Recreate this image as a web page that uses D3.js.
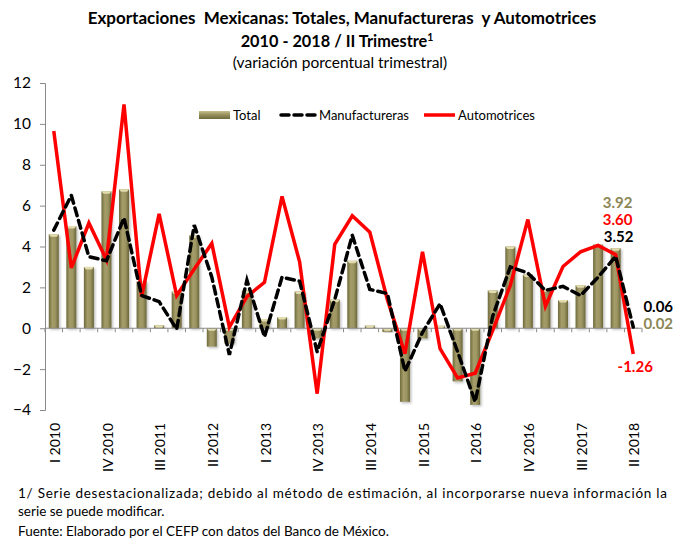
<!DOCTYPE html>
<html><head><meta charset="utf-8">
<script src="https://cdn.jsdelivr.net/npm/d3@7"></script>
<style>
html,body{margin:0;padding:0;background:#fff;}
svg{display:block;font-family:Lato,"Open Sans",sans-serif;}
</style></head>
<body>
<svg id="chart" width="686" height="541"></svg>
<script>
// ---- data ----
const years = [2010,2011,2012,2013,2014,2015,2016,2017,2018];
const romans = ["I","II","III","IV"];
const quarters = [];
years.forEach(y => romans.forEach(r => { if (!(y === 2018 && (r === "III" || r === "IV"))) quarters.push(r + " " + y); }));
const shownLabels = ["I 2010","IV 2010","III 2011","II 2012","I 2013","IV 2013","III 2014","II 2015","I 2016","IV 2016","III 2017","II 2018"];
const total = [4.6, 5.0, 3.0, 6.7, 6.8, 2.3, 0.15, 1.8, 4.55, -0.9, -0.75, 1.85, 0.45, 0.55, 1.8, -0.5, 1.4, 3.3, 0.13, -0.18, -3.6, -0.5, 0.12, -2.6, -3.75, 1.85, 4.0, 2.63, 1.9, 1.38, 2.1, 4.1, 3.92, 0.02];
const manuf = [4.8, 6.5, 3.5, 3.3, 5.4, 1.6, 1.3, -0.05, 5.05, 2.5, -1.3, 2.35, -0.42, 2.5, 2.3, -1.15, 1.4, 4.55, 1.9, 1.7, -2.1, -0.2, 1.2, -1.15, -3.6, 0.6, 3.0, 2.7, 1.85, 2.05, 1.6, 2.5, 3.52, 0.06];
const auto = [9.65, 2.95, 5.15, 3.35, 10.95, 1.55, 5.6, 1.6, 2.9, 4.15, 0.05, 1.55, 2.25, 6.45, 3.25, -3.2, 4.1, 5.5, 4.7, 1.4, -1.24, 3.74, -1.0, -2.43, -2.2, -0.1, 2.1, 5.32, 1.08, 3.02, 3.74, 4.05, 3.60, -1.26];
const yTicks = [-4,-2,0,2,4,6,8,10,12];
const seriesNames = ["Total","Manufactureras","Automotrices"];
const titleLines = ["Exportaciones  Mexicanas: Totales, Manufactureras  y Automotrices", "2010 - 2018 / II Trimestre", "(variación porcentual trimestral)"];
const notes = ["1/ Serie desestacionalizada; debido al método de estimación, al incorporarse nueva información la", "serie se puede modificar.", "Fuente: Elaborado por el CEFP con datos del Banco de México."];

// ---- colors ----
const olive = "#8c8656", red = "#ff0000", black = "#000000", axisGray = "#8a8a8a";

const svg = d3.select("#chart");
const defs = svg.append("defs");
const g1 = defs.append("linearGradient").attr("id","barGrad").attr("x1","0").attr("x2","1").attr("y1","0").attr("y2","0");
g1.append("stop").attr("offset","0%").attr("stop-color","#6e6a3c");
g1.append("stop").attr("offset","35%").attr("stop-color","#a59d69");
g1.append("stop").attr("offset","65%").attr("stop-color","#9d9562");
g1.append("stop").attr("offset","100%").attr("stop-color","#6a6539");
const g2 = defs.append("linearGradient").attr("id","legGrad").attr("x1","0").attr("x2","0").attr("y1","0").attr("y2","1");
g2.append("stop").attr("offset","0%").attr("stop-color","#c9c18d");
g2.append("stop").attr("offset","40%").attr("stop-color","#9d9562");
g2.append("stop").attr("offset","100%").attr("stop-color","#6e6a3c");
const f = defs.append("filter").attr("id","shadow").attr("x","-30%").attr("y","-10%").attr("width","160%").attr("height","130%");
f.append("feDropShadow").attr("dx",1.5).attr("dy",1.5).attr("stdDeviation",1).attr("flood-color","#000").attr("flood-opacity",0.25);

// ---- scales ----
const x = d3.scaleBand().domain(quarters).range([45, 642]).paddingInner(0.43).paddingOuter(0.215);
const y = d3.scaleLinear().domain([-4, 12]).range([410, 83]);
const cx = q => x(q) + x.bandwidth() / 2;

// ---- title ----
svg.append("text").attr("x", 342).attr("y", 24).attr("text-anchor","middle")
  .style("white-space","pre").attr("font-weight","bold").attr("font-size", 17).text(titleLines[0]);
const t2 = svg.append("text").attr("x", 337).attr("y", 47).attr("text-anchor","middle")
  .attr("font-weight","bold").attr("font-size", 16.3);
t2.append("tspan").text(titleLines[1]);
t2.append("tspan").attr("font-size", 10.5).attr("dy", -6).text("1");
svg.append("text").attr("x", 340).attr("y", 68).attr("text-anchor","middle")
  .attr("font-size", 15.5).text(titleLines[2]);

// ---- y axis ----
const yAxis = svg.append("g").attr("transform","translate(45,0)")
  .call(d3.axisLeft(y).tickValues(yTicks).tickSize(5).tickPadding(9).tickFormat(d3.format("d")));
yAxis.select(".domain").attr("stroke", axisGray);
yAxis.selectAll(".tick line").attr("stroke", axisGray);
yAxis.selectAll(".tick text").attr("font-size", 15.5).attr("font-family","Lato").attr("fill","#000");

// ---- bars ----
const bars = svg.append("g");
bars.selectAll("rect").data(total).join("rect")
  .attr("x", (d,i) => x(quarters[i]))
  .attr("width", x.bandwidth())
  .attr("y", d => y(Math.max(0, d)))
  .attr("height", d => Math.abs(y(d) - y(0)))
  .attr("fill", "url(#barGrad)")
  .attr("filter", "url(#shadow)");
// top highlight caps
bars.selectAll("path.cap").data(total).join("path").attr("class","cap")
  .attr("d", (d,i) => {
    const x0 = x(quarters[i]), w = x.bandwidth(), yt = y(Math.max(0,d));
    const h = Math.min(2.5, Math.abs(y(d)-y(0)));
    return `M${x0},${yt}L${x0+w},${yt}L${x0+w-2},${yt+h}L${x0+2},${yt+h}Z`;
  })
  .attr("fill", "#e2dcae");

// ---- x axis ----
const xAxis = svg.append("g");
xAxis.append("line").attr("x1", x.range()[0]).attr("x2", x.range()[1])
  .attr("y1", y(0)).attr("y2", y(0)).attr("stroke", axisGray);
const bounds = quarters.map(q => x(q) - x.paddingOuter() * x.step()).concat([x.range()[1]]);
xAxis.selectAll("line.tk").data(bounds).join("line").attr("class","tk")
  .attr("x1", d => d).attr("x2", d => d).attr("y1", y(0)).attr("y2", y(0) + 4).attr("stroke", axisGray);
svg.append("g").selectAll("text").data(shownLabels).join("text")
  .attr("transform", d => `translate(${cx(d) + 1},423) rotate(-90)`)
  .attr("text-anchor","end").attr("dy","0.36em").attr("font-size", 14).text(d => d);

// ---- lines ----
const line = d3.line().x((d,i) => cx(quarters[i])).y(d => y(d));
svg.append("path").datum(auto).attr("d", line).attr("fill","none")
  .attr("stroke", red).attr("stroke-width", 3.5).attr("stroke-linejoin","miter");
svg.append("path").datum(manuf).attr("d", line).attr("fill","none")
  .attr("stroke", black).attr("stroke-width", 3.5).attr("stroke-dasharray","8,5").attr("stroke-linecap","round");

// ---- end labels ----
const last = quarters.length - 1, prev = last - 1;
const lab = svg.append("g").attr("font-weight","bold").attr("font-size", 15);
lab.append("text").attr("x", cx(quarters[prev]) + 2).attr("y", 208).attr("text-anchor","middle").attr("fill", olive).text(total[prev].toFixed(2));
lab.append("text").attr("x", cx(quarters[prev]) + 2).attr("y", 225).attr("text-anchor","middle").attr("fill", red).text(auto[prev].toFixed(2));
lab.append("text").attr("x", cx(quarters[prev]) + 3).attr("y", 242).attr("text-anchor","middle").attr("fill", black).text(manuf[prev].toFixed(2));
lab.append("text").attr("x", cx(quarters[last]) + 25).attr("y", 312).attr("text-anchor","middle").attr("fill", black).text(manuf[last].toFixed(2));
lab.append("text").attr("x", cx(quarters[last]) + 25).attr("y", 329).attr("text-anchor","middle").attr("fill", olive).text(total[last].toFixed(2));
lab.append("text").attr("x", cx(quarters[last]) + 2).attr("y", 372).attr("text-anchor","middle").attr("fill", red).text(auto[last].toFixed(2));

// ---- legend ----
const leg = svg.append("g").attr("font-size", 13);
leg.append("rect").attr("x", 199).attr("y", 111).attr("width", 31).attr("height", 8).attr("fill","url(#legGrad)");
leg.append("text").attr("x", 233).attr("y", 120).text(seriesNames[0]);
leg.append("line").attr("x1", 281).attr("x2", 316).attr("y1", 115).attr("y2", 115)
  .attr("stroke", black).attr("stroke-width", 3.5).attr("stroke-dasharray","8,5").attr("stroke-linecap","round");
leg.append("text").attr("x", 319).attr("y", 120).text(seriesNames[1]);
leg.append("line").attr("x1", 424).attr("x2", 455).attr("y1", 115).attr("y2", 115)
  .attr("stroke", red).attr("stroke-width", 3.5);
leg.append("text").attr("x", 458).attr("y", 120).text(seriesNames[2]);

// ---- footnotes ----
const fn = svg.append("g").attr("font-size", 13.5);
fn.append("text").attr("x", 18).attr("y", 498).attr("textLength", 649).attr("lengthAdjust","spacing").text(notes[0]);
fn.append("text").attr("x", 18).attr("y", 516).text(notes[1]);
fn.append("text").attr("x", 18).attr("y", 536).text(notes[2]);
</script>
</body></html>
